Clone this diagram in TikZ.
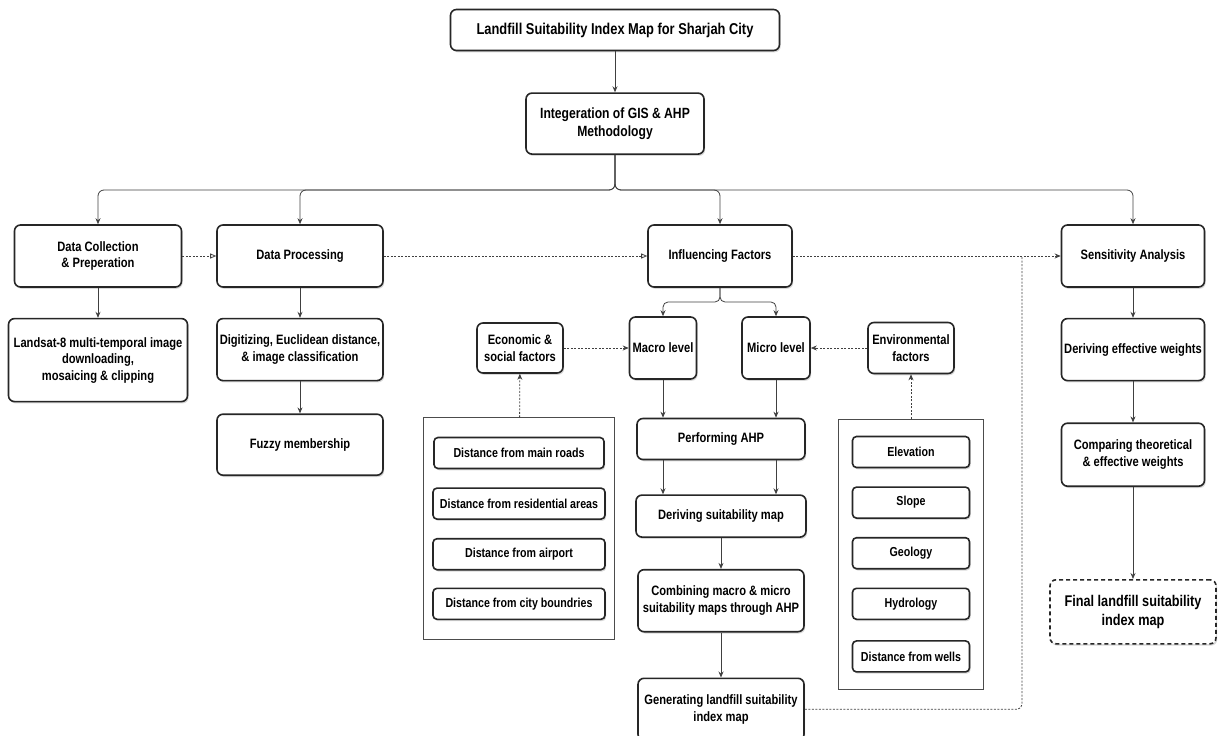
\documentclass[tikz,border=0pt]{standalone}
\usepackage{fontspec}
\setmainfont{Liberation Sans}[FakeStretch=0.82]
\usetikzlibrary{arrows.meta, positioning, fit, shadows}

\begin{document}
\begin{tikzpicture}[
        x=1pt, y=-1pt,
        font=\fontsize{13.6}{16.5}\selectfont\bfseries,
        box/.style={rectangle, draw=black!85, line width=1.6pt, fill=white, align=center, rounded corners=6pt, inner sep=1.2pt, drop shadow={shadow xshift=1.2pt, shadow yshift=-1.8pt, opacity=0.3}},
        item/.style={box, minimum height=31pt, rounded corners=4pt, font=\fontsize{13}{15}\selectfont\bfseries},
        group/.style={rectangle, draw=black!70, line width=0.8pt},
        arrow/.style={draw=black!75, line width=0.8pt, -{Stealth[length=6pt, width=5pt]}},
        dotline/.style={draw=black!75, line width=0.8pt, dash pattern=on 2pt off 1.5pt},
        dotarrow/.style={dotline, -{Stealth[length=6pt, width=5pt]}},
        openarrow/.style={dotline, -{Triangle[open, length=6pt, width=5pt]}}
        ]
        \useasboundingbox (0,0) rectangle (1219,736);

        \node[box, minimum width=329pt, minimum height=41pt, font=\fontsize{15.7}{18}\selectfont\bfseries] (title) at (615,30) {Landfill Suitability Index Map for Sharjah City};
        \node[box, minimum width=178pt, minimum height=61pt, below=41pt of title, font=\fontsize{14.8}{18}\selectfont\bfseries] (integ) {Integeration of GIS \& AHP\\Methodology};

        \node[box, minimum width=167pt, minimum height=62pt] (collect) at (98,256) {Data Collection\\\& Preperation};
        \node[box, minimum width=179pt, minimum height=83pt, below=30pt of collect] (landsat) {Landsat-8 multi-temporal image\\downloading,\\mosaicing \& clipping};
        \node[box, minimum width=166pt, minimum height=62pt] (process) at (300,256) {Data Processing};
        \node[box, minimum width=166pt, minimum height=62pt, below=30pt of process] (digit) {Digitizing, Euclidean distance,\\\& image classification};
        \node[box, minimum width=166pt, minimum height=61pt, below=32pt of digit] (fuzzy) {Fuzzy membership};

        \node[box, minimum width=144pt, minimum height=62pt] (factors) at (720,256) {Influencing Factors};
        \node[box, minimum width=67pt, minimum height=62pt] (macro) at (663,348) {Macro level};
        \node[box, minimum width=68pt, minimum height=62pt] (micro) at (776,348) {Micro level};
        \node[box, minimum width=86pt, minimum height=50pt] (econ) at (520,348) {Economic \&\\social factors};
        \node[box, minimum width=86pt, minimum height=51pt] (envir) at (911,348) {Environmental\\factors};

        \node[box, minimum width=168pt, minimum height=41pt] (ahp) at (721,439) {Performing AHP};
        \node[box, minimum width=170pt, minimum height=42pt, below=34pt of ahp] (suitmap) {Deriving suitability map};
        \node[box, minimum width=166pt, minimum height=62pt, below=31pt of suitmap] (combine) {Combining macro \& micro\\suitability maps through AHP};
        \node[box, minimum width=166pt, minimum height=62pt, below=45pt of combine] (lsi) {Generating landfill suitability\\index map};

        \node[item, minimum width=170pt] (roads) at (519,453) {Distance from main roads};
        \node[item, minimum width=172pt, below=18pt of roads] (resid) {Distance from residential areas};
        \node[item, minimum width=172pt, below=18pt of resid] (airport) {Distance from airport};
        \node[item, minimum width=172pt, below=17pt of airport] (cityb) {Distance from city boundries};
        \node[group, fit=(roads)(cityb), inner xsep=9pt, inner ysep=19pt] (econbox) {};

        \node[item, minimum width=117pt] (elev) at (911,452) {Elevation};
        \node[item, minimum width=117pt, below=18pt of elev] (slope) {Slope};
        \node[item, minimum width=117pt, below=18pt of slope] (geology) {Geology};
        \node[item, minimum width=117pt, below=18pt of geology] (hydro) {Hydrology};
        \node[item, minimum width=117pt, below=20pt of hydro] (wells) {Distance from wells};
        \node[group, fit=(elev)(wells), inner xsep=13pt, inner ysep=16.5pt] (envbox) {};

        \node[box, minimum width=143pt, minimum height=62pt] (sens) at (1133,256) {Sensitivity Analysis};
        \node[box, minimum width=143pt, minimum height=62pt, below=30pt of sens] (effw) {Deriving effective weights};
        \node[box, minimum width=143pt, minimum height=63pt, below=41pt of effw] (compare) {Comparing theoretical\\\& effective weights};
        \node[box, dash pattern=on 4pt off 3pt, minimum width=166pt, minimum height=64pt, below=92pt of compare, font=\fontsize{15.5}{19}\selectfont\bfseries] (final) {Final landfill suitability\\index map};

        \coordinate (bus) at (615,190);
        \coordinate (ifork) at (720,302);
        \coordinate (join) at (1022,256);

        \draw[arrow] (title) -- (integ);
        \draw[arrow, rounded corners=6pt] (integ.south) -- (bus) -| (collect.north);
        \draw[arrow, rounded corners=6pt] (integ.south) -- (bus) -| (process.north);
        \draw[arrow, rounded corners=6pt] (integ.south) -- (bus) -| (factors.north);
        \draw[arrow, rounded corners=6pt] (integ.south) -- (bus) -| (sens.north);

        \draw[arrow] (collect) -- (landsat);
        \draw[arrow] (process) -- (digit);
        \draw[arrow] (digit) -- (fuzzy);
        \draw[openarrow] (collect) -- (process);
        \draw[openarrow] (process) -- (factors);
        \draw[dotarrow] (factors) -- (sens);

        \draw[arrow, rounded corners=5pt] (factors.south) -- (ifork) -| (macro.north);
        \draw[arrow, rounded corners=5pt] (factors.south) -- (ifork) -| (micro.north);
        \draw[dotarrow] (econ) -- (macro);
        \draw[dotarrow] (envir) -- (micro);
        \draw[dotarrow] (econbox) -- (econ);
        \draw[dotarrow] (envbox) -- (envir);

        \draw[arrow] (macro) -- (macro |- ahp.north);
        \draw[arrow] (micro) -- (micro |- ahp.north);
        \draw[arrow] (ahp.south -| macro) -- (suitmap.north -| macro);
        \draw[arrow] (ahp.south -| micro) -- (suitmap.north -| micro);
        \draw[arrow] (suitmap) -- (combine);
        \draw[arrow] (combine) -- (lsi);
        \draw[dotline, rounded corners=5pt] (lsi.east) -| (join);

        \draw[arrow] (sens) -- (effw);
        \draw[arrow] (effw) -- (compare);
        \draw[arrow] (compare) -- (final);
    \end{tikzpicture}
\end{document}
